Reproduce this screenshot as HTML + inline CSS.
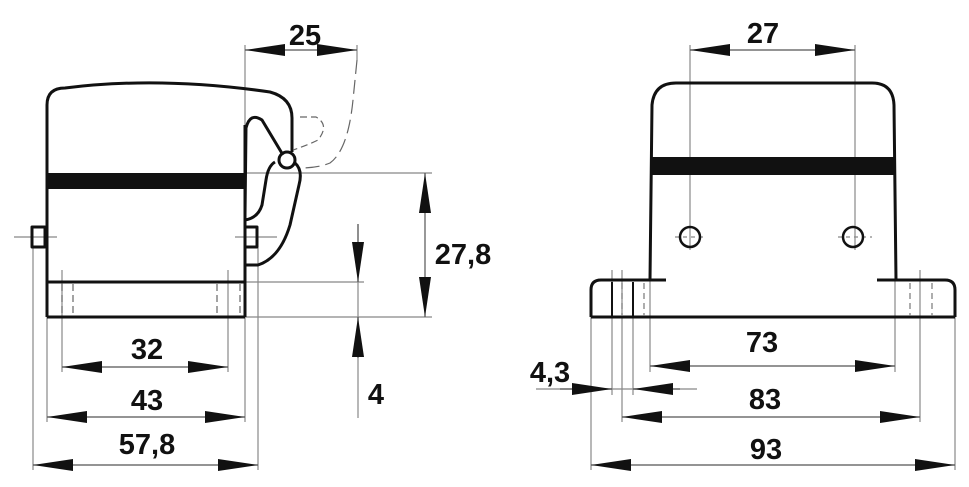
<!DOCTYPE html>
<html><head><style>body{margin:0;background:#fff}svg{display:block}text{font-family:"Liberation Sans",sans-serif;font-weight:bold;font-size:29px;fill:#111}</style></head>
<body>
<svg width="969" height="487" viewBox="0 0 969 487" xmlns="http://www.w3.org/2000/svg">
<defs>
<marker id="a" viewBox="0 0 40 12" refX="40" refY="6" markerWidth="40" markerHeight="12" markerUnits="userSpaceOnUse" orient="auto-start-reverse"><path d="M0,0 L40,6 L0,12 Z" fill="#111"/></marker>
</defs>
<g stroke="#888" stroke-width="1.2" fill="none">
<line x1="245" y1="45" x2="245" y2="125"/><line x1="357" y1="45" x2="357" y2="60"/>
<line x1="245" y1="173" x2="432" y2="173"/><line x1="245" y1="317" x2="432" y2="317"/>
<line x1="245" y1="282" x2="364" y2="282"/>
<line x1="62" y1="270" x2="62" y2="372"/><line x1="228" y1="270" x2="228" y2="372"/>
<line x1="47" y1="317" x2="47" y2="422"/><line x1="245" y1="317" x2="245" y2="422"/>
<line x1="33" y1="248" x2="33" y2="470"/><line x1="258" y1="248" x2="258" y2="470"/>
<line x1="358" y1="224" x2="358" y2="418"/>
<line x1="14" y1="237" x2="57" y2="237"/><line x1="235" y1="237" x2="277" y2="237"/>
<line x1="690" y1="45" x2="690" y2="250"/><line x1="855" y1="45" x2="855" y2="250"/>
<line x1="650" y1="280" x2="650" y2="372"/><line x1="895" y1="280" x2="895" y2="372"/>
<line x1="612" y1="270" x2="612" y2="395"/><line x1="633" y1="317" x2="633" y2="395"/>
<line x1="622" y1="270" x2="622" y2="422"/><line x1="920" y1="270" x2="920" y2="422"/>
<line x1="591" y1="317" x2="591" y2="470"/><line x1="955" y1="317" x2="955" y2="470"/>
<line x1="536" y1="389" x2="697" y2="389"/>
<line x1="675" y1="237" x2="705" y2="237" stroke-dasharray="4,4"/><line x1="838" y1="237" x2="872" y2="237" stroke-dasharray="4,4"/>
</g>
<g stroke="#555" stroke-width="1.2" fill="none">
<line x1="245" y1="50" x2="357" y2="50" marker-start="url(#a)" marker-end="url(#a)"/>
<line x1="425" y1="173" x2="425" y2="317" marker-start="url(#a)" marker-end="url(#a)"/>
<line x1="358" y1="224" x2="358" y2="282" marker-end="url(#a)"/>
<line x1="358" y1="358" x2="358" y2="317" marker-end="url(#a)"/>
<line x1="62" y1="367" x2="228" y2="367" marker-start="url(#a)" marker-end="url(#a)"/>
<line x1="47" y1="417" x2="245" y2="417" marker-start="url(#a)" marker-end="url(#a)"/>
<line x1="33" y1="465" x2="258" y2="465" marker-start="url(#a)" marker-end="url(#a)"/>
<line x1="690" y1="50" x2="855" y2="50" marker-start="url(#a)" marker-end="url(#a)"/>
<line x1="650" y1="366" x2="895" y2="366" marker-start="url(#a)" marker-end="url(#a)"/>
<line x1="560" y1="389" x2="612" y2="389" marker-end="url(#a)"/>
<line x1="680" y1="389" x2="633" y2="389" marker-end="url(#a)"/>
<line x1="622" y1="417" x2="920" y2="417" marker-start="url(#a)" marker-end="url(#a)"/>
<line x1="591" y1="465" x2="955" y2="465" marker-start="url(#a)" marker-end="url(#a)"/>
</g>
<g stroke="#111" stroke-width="3" fill="none" stroke-linejoin="round">
<path d="M47,317 L47,105 Q47,88 65,88 Q160,76 270,92 Q292,98 292,118 L292,152"/>
<line x1="47" y1="282" x2="245" y2="282"/>
<line x1="47" y1="317" x2="245" y2="317"/>
<line x1="245" y1="125" x2="245" y2="317"/>
<path d="M245,215 L246,128 Q250,112 262,120 L283,155"/>
<circle cx="287" cy="160" r="8"/>
<path d="M275,162 Q268,166 266,180 L262,205 Q258,218 245,220"/>
<path d="M295,163 Q303,170 299,185 L290,225 Q280,258 258,265 L245,265"/>
<rect x="32" y="227" width="13" height="20"/>
<rect x="245" y="227" width="12" height="20"/>
</g>
<rect x="47" y="173" width="198" height="16" fill="#111"/>
<g stroke="#666" stroke-width="1.2" fill="none" stroke-dasharray="7,4">
<line x1="62" y1="284" x2="62" y2="315"/><line x1="73" y1="284" x2="73" y2="315"/>
<line x1="217" y1="284" x2="217" y2="315"/><line x1="240" y1="284" x2="240" y2="315"/>
<path d="M300,117 L316,117 Q330,125 318,140 Q308,145 293,150"/>
<path d="M357,60 L353,100 Q348,150 330,163 Q318,168 300,168" stroke-dasharray="14,6"/>
</g>
<g stroke="#111" stroke-width="3" fill="none">
<path d="M650,280 L652,105 Q654,83 676,83 L872,83 Q893,83 894,105 L896,280"/>
<line x1="650" y1="280" x2="666" y2="280"/><line x1="877" y1="280" x2="896" y2="280"/>
<path d="M591,317 L591,290 Q591,280 601,280 L650,280"/>
<path d="M895,280 L945,280 Q955,280 955,290 L955,317"/>
<line x1="591" y1="317" x2="955" y2="317"/>
<line x1="612" y1="282" x2="612" y2="316" stroke-width="2"/><line x1="633" y1="282" x2="633" y2="316" stroke-width="2"/>
<circle cx="690" cy="237" r="10" stroke-width="2.5"/><circle cx="853" cy="237" r="10" stroke-width="2.5"/>
</g>
<rect x="651" y="157" width="244" height="18" fill="#111"/>
<g stroke="#777" stroke-width="1.2" fill="none" stroke-dasharray="6,4">
<line x1="622" y1="283" x2="622" y2="316"/><line x1="644" y1="283" x2="644" y2="316"/>
<line x1="910" y1="283" x2="910" y2="316"/><line x1="932" y1="283" x2="932" y2="316"/>
</g>
<text x="305" y="45" text-anchor="middle">25</text>
<text x="463" y="264" text-anchor="middle">27,8</text>
<text x="376" y="404" text-anchor="middle">4</text>
<text x="147" y="359" text-anchor="middle">32</text>
<text x="147" y="410" text-anchor="middle">43</text>
<text x="147" y="454" text-anchor="middle">57,8</text>
<text x="763" y="43" text-anchor="middle">27</text>
<text x="762" y="352" text-anchor="middle">73</text>
<text x="550" y="382" text-anchor="middle">4,3</text>
<text x="765" y="409" text-anchor="middle">83</text>
<text x="766" y="459" text-anchor="middle">93</text>
</svg>
</body></html>
